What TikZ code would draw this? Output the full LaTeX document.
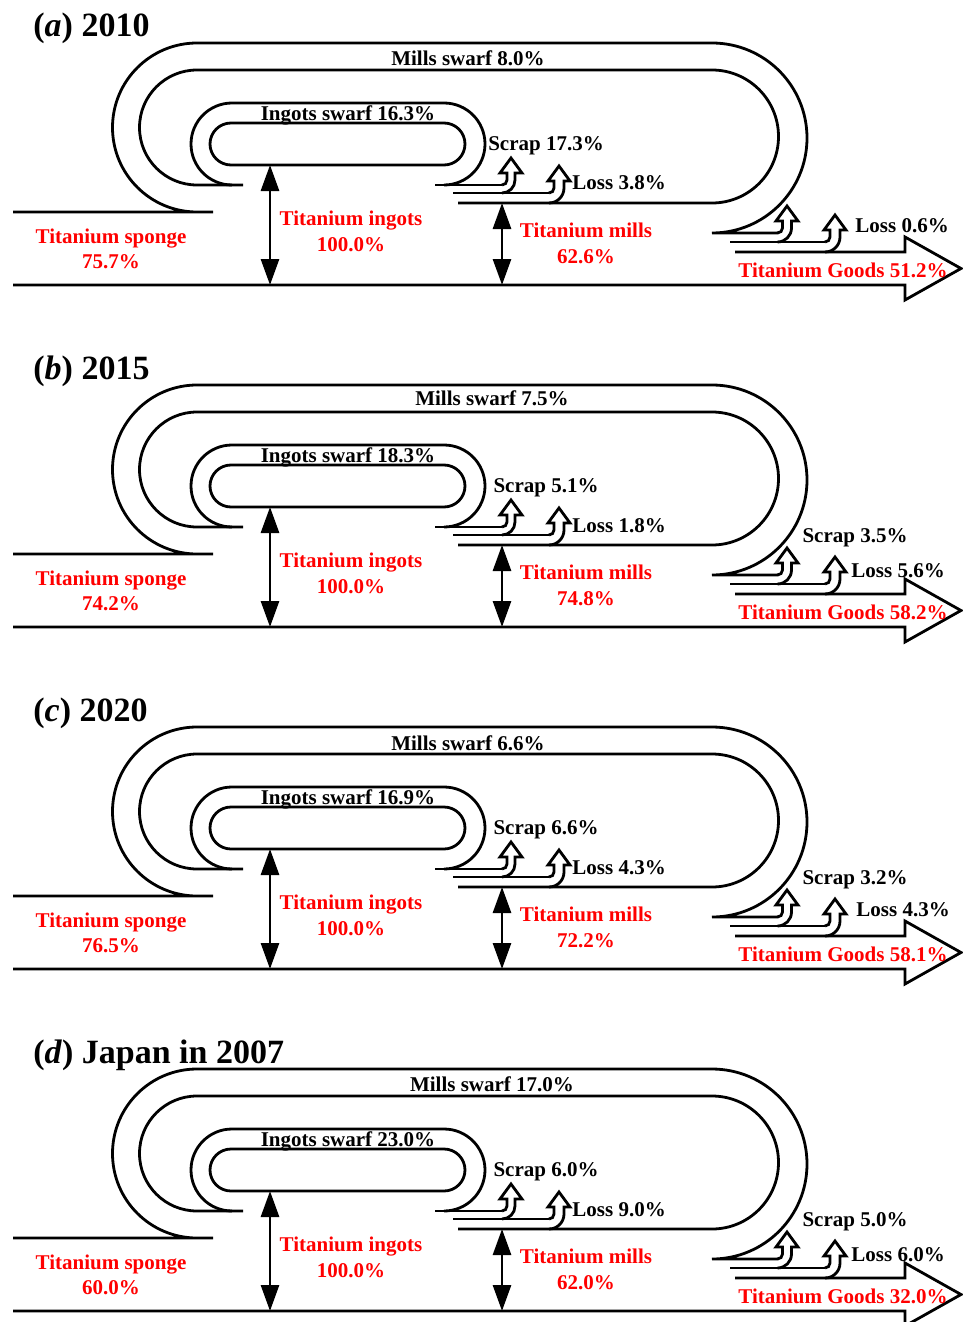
\documentclass[tikz,border=0pt]{standalone}
\usepackage{fontspec}
\setmainfont{Liberation Serif}
\usetikzlibrary{arrows.meta}

% hollow up-arrow leaving a band: centre x, top and bottom of the band
\newcommand{\upflow}[3]{%
  \pgfmathsetmacro\hw{(#3-#2)/2}
  \pgfmathsetmacro\ro{5+#3-#2}
  \draw[flow] ({#1-\hw-5},#2) arc (90:0:5) -- ({#1-\hw},{#2-12}) -- ({#1-11},{#2-12})
    -- (#1,{#2-27}) -- ({#1+11},{#2-12}) -- ({#1+\hw},{#2-12})
    -- ({#1+\hw},{#3-\ro}) arc (0:90:\ro);
}

\begin{document}
\begin{tikzpicture}[x=0.5pt,y=-0.5pt,
  flow/.style={line width=1.4pt},
  dbl/.style={line width=1.4pt,{Triangle[length=13pt,width=9pt]}-{Triangle[length=13pt,width=9pt]}},
  lbl/.style={font=\bfseries\fontsize{10.5}{12}\selectfont,inner sep=0pt,anchor=base},
  val/.style={lbl,text=red}]
  \useasboundingbox (0,0) rectangle (963,1322);
  \foreach \p/\oy/\ttl/\mx/\my/\ms/\isw/\sc/\lo/\sp/\mi/\go/\rlx/\rly/\rl in {
      a/0/{(\textit{a}) 2010}/468/66/8.0/16.3/17.3/3.8/75.7/62.6/51.2/855/232/0.6,
      b/342/{(\textit{b}) 2015}/492/63/7.5/18.3/5.1/1.8/74.2/74.8/58.2/851/235/5.6,
      c/684/{(\textit{c}) 2020}/468/66/6.6/16.9/6.6/4.3/76.5/72.2/58.1/856/232/4.3,
      d/1026/{(\textit{d}) Japan in 2007}/492/65/17.0/23.0/6.0/9.0/60.0/62.0/32.0/851/235/6.0}{
    \begin{scope}[shift={(0,\oy)}]
      % sponge in, mills swarf loop round the outside
      \draw[flow] (13,212) -- (213,212) (197,212) arc (90:270:84.5) -- (712,43) arc (270:450:95) -- (778,233);
      \draw[flow] (458,203) -- (712,203) arc (90:-90:66.5) -- (197,70) arc (270:90:57.5) -- (243,185);
      % ingots swarf loop
      \draw[flow] (232,185) arc (90:270:41) -- (444,103) arc (270:450:41);
      \draw[flow] (231,123) -- (444,123) arc (270:450:21) -- (231,165) arc (90:270:21) -- cycle;
      \draw[flow] (435,185) -- (502,185);
      \draw[flow] (453,193) -- (549,193);
      \upflow{511}{185}{193}
      \upflow{559}{193}{203}
      % goods out
      \draw[flow] (730,242) -- (825,242);
      \draw[flow] (735,252) -- (905,252) -- (905,237) -- (961,268.5) -- (905,300) -- (905,285) -- (13,285);
      \upflow{787}{233}{242}
      \upflow{835}{242}{252}
      \coordinate (ingtop-\p) at (270,165);
      \coordinate (ingbot-\p) at (270,285);
      \coordinate (milltop-\p) at (502,203);
      \coordinate (millbot-\p) at (502,285);
      \draw[dbl] (ingtop-\p) -- (ingbot-\p);
      \draw[dbl] (milltop-\p) -- (millbot-\p);
      \node[lbl,anchor=base west,font=\bfseries\fontsize{17}{20}\selectfont] (title-\p) at (33,37) {\ttl};
      \node[lbl] (millsswarf-\p) at (\mx,\my) {Mills swarf \ms\%};
      \node[lbl] (ingotsswarf-\p) at (348,120) {Ingots swarf \isw\%};
      \node[lbl] (scrap-\p) at (546,150) {Scrap \sc\%};
      \node[lbl,anchor=base west] (loss-\p) at (572,190) {Loss \lo\%};
      \node[lbl,anchor=base west] (goodsloss-\p) at (\rlx,\rly) {Loss \rl\%};
      \node[val] (sponge-\p) at (111,243) {Titanium sponge};
      \node[val] (spongeval-\p) at (111,268) {\sp\%};
      \node[val] (ingots-\p) at (351,225) {Titanium ingots};
      \node[val] (ingotsval-\p) at (351,251) {100.0\%};
      \node[val] (mills-\p) at (586,237) {Titanium mills};
      \node[val] (millsval-\p) at (586,263) {\mi\%};
      \node[val] (goods-\p) at (843,277) {Titanium Goods \go\%};
    \end{scope}
  }
  \foreach \p/\oy/\rs in {b/342/3.5,c/684/3.2,d/1026/5.0}
    \node[lbl] (goodsscrap-\p) at (855,{200+\oy}) {Scrap \rs\%};
\end{tikzpicture}
\end{document}
